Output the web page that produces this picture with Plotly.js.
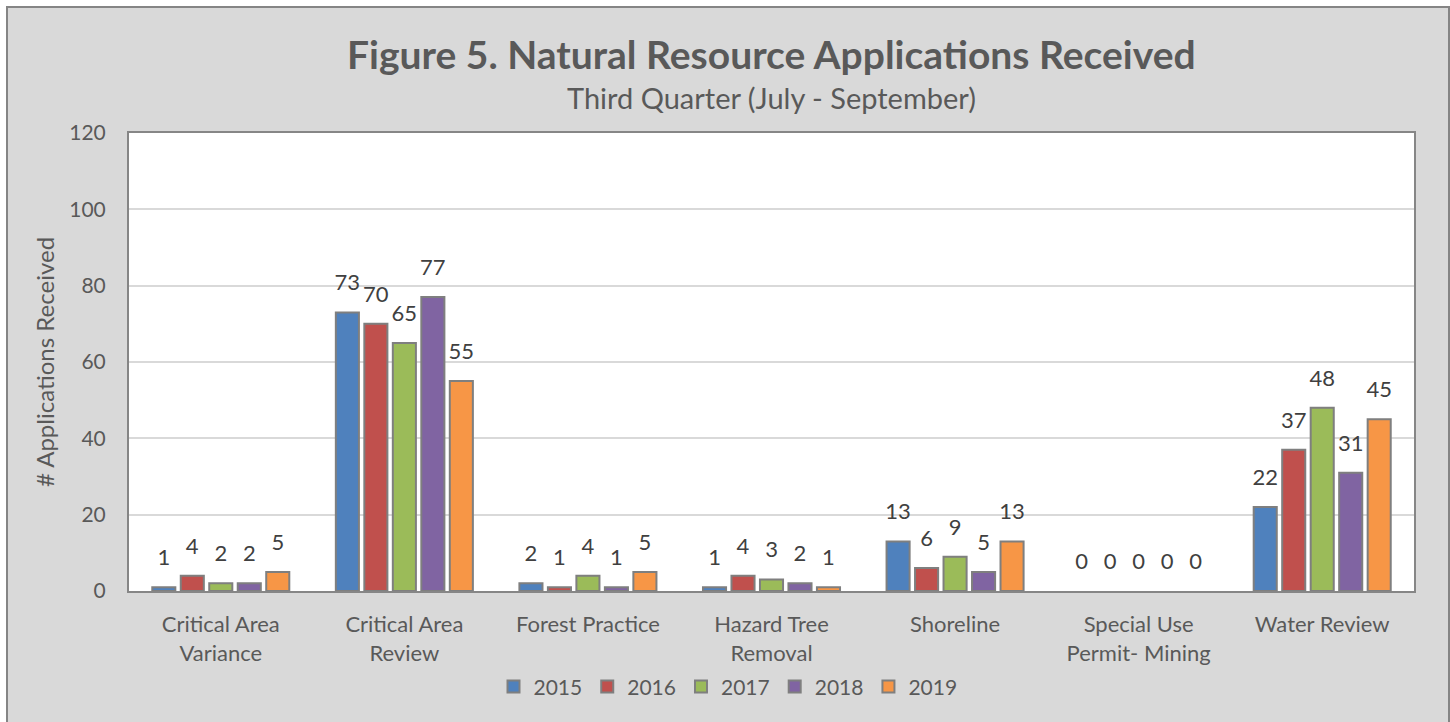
<!DOCTYPE html>
<html>
<head>
<meta charset="utf-8">
<script src="https://cdn.plot.ly/plotly-3.0.1.min.js"></script>
<style>
  html, body { margin: 0; padding: 0; background: #ffffff; overflow: hidden; }
  #frame {
    position: absolute; left: 6px; top: 6px;
    width: 1440px; height: 730px;
    border: 2px solid #858585;
    background: #d9d9d9;
  }
  #plot { width: 1440px; height: 720px; }
</style>
</head>
<body>
<div id="frame"><div id="plot"></div></div>
<script>
  // categories and counts per year (Q3, July - September)
  var categories = [
    "Critical Area<br>Variance",
    "Critical Area<br>Review",
    "Forest Practice",
    "Hazard Tree<br>Removal",
    "Shoreline",
    "Special Use<br>Permit- Mining",
    "Water Review"
  ];
  var years = ["2015", "2016", "2017", "2018", "2019"];
  var v2015 = [1, 73, 2, 1, 13, 0, 22];
  var v2016 = [4, 70, 1, 4, 6, 0, 37];
  var v2017 = [2, 65, 4, 3, 9, 0, 48];
  var v2018 = [2, 77, 1, 2, 5, 0, 31];
  var v2019 = [5, 55, 5, 1, 13, 0, 45];
  var colors = ["#4f81bd", "#c0504d", "#9bbb59", "#8064a2", "#f79646"];

  var series = [v2015, v2016, v2017, v2018, v2019];
  var font = "Lato, 'Open Sans', sans-serif";
  var labelLift = 3.7; // lift the value labels a bit above the bars, like Excel does

  var data = [];
  series.forEach(function (vals, i) {
    data.push({
      type: "bar",
      name: years[i],
      offsetgroup: years[i],
      x: categories,
      y: vals,
      textposition: "none",
      marker: {
        color: colors[i],
        // no outline on empty bars
        line: { color: "#7f7f7f", width: vals.map(function (v) { return v > 0 ? 2 : 0; }) }
      },
      hoverinfo: "x+y+name"
    });
  });
  // label layer: invisible bars sharing each group's slot
  series.forEach(function (vals, i) {
    data.push({
      type: "bar",
      name: years[i] + " labels",
      offsetgroup: years[i],
      showlegend: false,
      hoverinfo: "skip",
      x: categories,
      y: vals,
      base: labelLift,
      text: vals.map(String),
      textposition: "outside",
      constraintext: "none",
      cliponaxis: false,
      textfont: { family: font, size: 22, color: "#404040" },
      marker: { color: "rgba(0,0,0,0)", line: { width: 0 } }
    });
  });

  var layout = {
    width: 1440,
    height: 720,
    paper_bgcolor: "#d9d9d9",
    plot_bgcolor: "#ffffff",
    font: { family: font, color: "#595959", size: 22 },
    margin: { l: 121, r: 34, t: 125, b: 137 },
    barmode: "group",
    bargap: 0.224,
    bargroupgap: 0.19,
    showlegend: true,
    legend: {
      orientation: "h",
      x: 0.5, xanchor: "center", xref: "container",
      y: 0.057, yanchor: "middle", yref: "container",
      font: { size: 21, color: "#595959" },
      itemwidth: 30,
      traceorder: "normal"
    },
    xaxis: {
      type: "category",
      showline: true, linecolor: "#868686", linewidth: 2,
      mirror: true,
      ticks: "", ticklabelstandoff: 13,
      tickfont: { size: 22, color: "#595959" }
    },
    yaxis: {
      range: [0, 120],
      dtick: 20,
      showline: true, linecolor: "#868686", linewidth: 2,
      mirror: true,
      gridcolor: "#d9d9d9", gridwidth: 1.5,
      zeroline: false,
      ticks: "", ticklabelstandoff: 17,
      tickfont: { size: 21, color: "#595959" },
      title: { text: "# Applications Received", font: { size: 24, color: "#595959" }, standoff: 8 }
    },
    annotations: [
      {
        xref: "paper", yref: "paper", x: 0.5, y: 1, yshift: 79,
        xanchor: "center", yanchor: "middle", showarrow: false,
        text: "<b>Figure 5. Natural Resource Applications Received</b>",
        font: { size: 39, color: "#595959" }
      },
      {
        xref: "paper", yref: "paper", x: 0.5, y: 1, yshift: 36,
        xanchor: "center", yanchor: "middle", showarrow: false,
        text: "Third Quarter (July - September)",
        font: { size: 29, color: "#595959" }
      }
    ]
  };

  Plotly.newPlot("plot", data, layout, { displayModeBar: false });
</script>
</body>
</html>
